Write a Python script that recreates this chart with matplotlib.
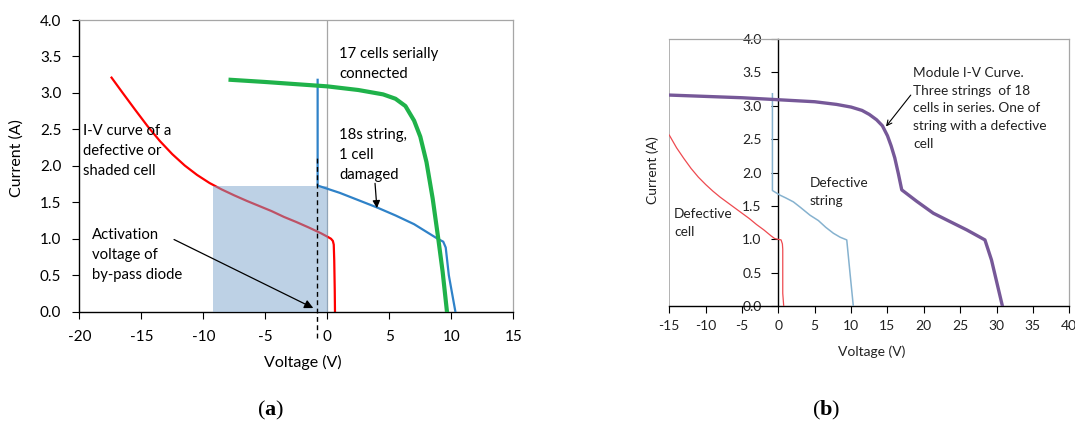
import matplotlib
matplotlib.use("Agg")
import matplotlib.pyplot as plt

plt.rcParams['font.family'] = ['Lato', 'DejaVu Sans']
plt.rcParams['mathtext.fontset'] = 'custom'
plt.rcParams['mathtext.rm'] = 'Liberation Serif'
plt.rcParams['mathtext.bf'] = 'Liberation Serif:bold'

# ---------------- data: panel (a) ----------------
cell_v = [-17.4, -16.5, -15.5, -14.5, -13.5, -12.5, -11.5, -10.5, -9.5, -8.5, -7.5,
          -6.5, -5.5, -4.5, -3.5, -2.5, -1.5, -0.5, 0.1, 0.3, 0.45, 0.52, 0.56, 0.6, 0.62]
cell_i = [3.21, 3.0, 2.77, 2.545, 2.34, 2.16, 2.005, 1.875, 1.765, 1.675, 1.595,
          1.52, 1.45, 1.38, 1.30, 1.23, 1.155, 1.075, 1.02, 1.0, 0.97, 0.92, 0.7, 0.3, 0.0]

string_v = [-0.78, -0.78, 1.0, 2.5, 4.0, 5.5, 7.0, 8.9, 9.35, 9.55, 9.8, 10.33]
string_i = [3.18, 1.73, 1.63, 1.53, 1.43, 1.32, 1.2, 1.0, 0.96, 0.88, 0.5, 0.0]

good_v = [-7.8, -5.0, -2.5, 0.0, 2.5, 4.5, 5.5, 6.3, 7.0, 7.5, 8.0, 8.5, 8.95, 9.3, 9.65]
good_i = [3.18, 3.15, 3.12, 3.09, 3.04, 2.98, 2.92, 2.82, 2.62, 2.4, 2.05, 1.55, 1.0, 0.55, 0.0]

shade_v = [-9.2, 0.08]
shade_i = 1.73
bypass_v = -0.8

ticks_a_x = [-20, -15, -10, -5, 0, 5, 10, 15]
ticks_a_y = [0.0, 0.5, 1.0, 1.5, 2.0, 2.5, 3.0, 3.5, 4.0]

# ---------------- data: panel (b) ----------------
mod_v = [-15.0, -10.0, -5.0, 0.0, 5.0, 8.0, 10.0, 11.5, 12.5, 13.5, 14.3, 15.0, 15.5,
         16.0, 16.5, 16.96, 19.0, 21.3, 23.5, 25.9, 28.4, 29.3, 30.8]
mod_i = [3.16, 3.14, 3.12, 3.09, 3.06, 3.02, 2.98, 2.93, 2.87, 2.79, 2.70, 2.55, 2.40,
         2.22, 1.98, 1.74, 1.57, 1.39, 1.27, 1.14, 0.99, 0.69, 0.0]

dcell_v = [-15.0, -14.0, -13.0, -12.0, -11.0, -10.0, -9.0, -8.0, -7.0, -6.0, -5.0, -4.0,
           -3.0, -2.0, -1.0, -0.5, 0.37, 0.55, 0.6, 0.6, 0.73]
dcell_i = [2.56, 2.37, 2.21, 2.06, 1.93, 1.82, 1.72, 1.63, 1.55, 1.47, 1.39, 1.31,
           1.22, 1.14, 1.05, 1.01, 0.99, 0.93, 0.85, 0.19, 0.0]

dstr_v = [-0.82, -0.82, 0.23, 1.0, 2.06, 3.0, 4.35, 5.5, 6.5, 7.56, 8.5, 9.4, 9.85, 10.3]
dstr_i = [3.18, 1.73, 1.66, 1.62, 1.56, 1.48, 1.36, 1.28, 1.18, 1.09, 1.03, 0.99, 0.49, 0.0]

ticks_b_x = [-15, -10, -5, 0, 5, 10, 15, 20, 25, 30, 35, 40]
ticks_b_y = [0.0, 0.5, 1.0, 1.5, 2.0, 2.5, 3.0, 3.5, 4.0]

W, H = 1075, 422
fig = plt.figure(figsize=(W / 100, H / 100), dpi=100)


def fx(px):
    return px / W


def fy(py):
    return 1 - py / H


GREY = '#a6a6a6'

# ================= panel (a) =================
ax = fig.add_axes([fx(79.3), fy(311.7), fx(513.3) - fx(79.3), fy(20) - fy(311.7)])
ax.set_xlim(-20, 15)
ax.set_ylim(0, 4)
ax.axvline(0, color=GREY, lw=0.9, zorder=1)
ax.plot(cell_v, cell_i, color='#ff0000', lw=1.6, zorder=2)
ax.fill_between(shade_v, 0, shade_i, color='#7da5cd', alpha=0.5, lw=0, zorder=3)
ax.plot(string_v, string_i, color='#2f82c8', lw=1.6, zorder=4)
ax.plot(good_v, good_i, color='#1fb24a', lw=3.0, zorder=5)
ax.plot([bypass_v, bypass_v], [-0.36, 2.15], color='black', lw=1.0,
        ls=(0, (3.5, 2.5)), clip_on=False, zorder=6)

ax.set_xticks(ticks_a_x)
ax.set_yticks(ticks_a_y)
ax.set_xticklabels([str(t) for t in ticks_a_x])
ax.set_yticklabels([f'{t:.1f}' for t in ticks_a_y])
ax.tick_params(axis='both', direction='out', length=5, width=0.8, labelsize=11, color='black')
ax.tick_params(axis='x', pad=8)
ax.tick_params(axis='y', pad=8)
for s in ['top', 'right']:
    ax.spines[s].set_color(GREY)
    ax.spines[s].set_linewidth(0.9)
for s in ['left', 'bottom']:
    ax.spines[s].set_color('black')
    ax.spines[s].set_linewidth(1.0)

tkw = dict(fontsize=10.7, ha='left', va='center', linespacing=1.55, zorder=7)
ax.text(0.97, 3.395, '17 cells serially\nconnected', **tkw)
ax.text(-19.67, 2.20, 'I-V curve of a\ndefective or\nshaded cell', **tkw)
ax.text(0.97, 2.15, '18s string,\n1 cell\ndamaged', **tkw)
ax.text(-18.94, 0.78, 'Activation\nvoltage of\nby-pass diode', **tkw)

ax.annotate('', xy=(-1.13, 0.05), xytext=(-12.36, 0.99),
            arrowprops=dict(arrowstyle='-|>', color='black', lw=0.9,
                            mutation_scale=13, shrinkA=0, shrinkB=0), zorder=8)
ax.annotate('', xy=(4.0, 1.42), xytext=(3.85, 1.76),
            arrowprops=dict(arrowstyle='-|>', color='black', lw=0.9,
                            mutation_scale=11, shrinkA=0, shrinkB=0), zorder=8)

fig.text(fx(17), fy(158), 'Current (A)', rotation=90, fontsize=11.5, ha='center', va='center')
fig.text(fx(302.8), fy(362), 'Voltage (V)', fontsize=11.5, ha='center', va='center')
fig.text(fx(271), fy(410), r'$\mathrm{(}\mathbf{a}\mathrm{)}$', fontsize=16, ha='center', va='center')

# ================= panel (b) =================
bx = fig.add_axes([fx(669.3), fy(306), fx(1069.3) - fx(669.3), fy(39) - fy(306)])
bx.set_xlim(-15, 40)
bx.set_ylim(0, 4)
bx.axvline(-15, color=GREY, lw=1.2, zorder=1)
bx.plot(dcell_v, dcell_i, color='#ee4a50', lw=0.9, zorder=3)
bx.plot(dstr_v, dstr_i, color='#86b2cf', lw=1.1, zorder=3)
bx.plot(mod_v, mod_i, color='#765898', lw=2.4, zorder=4)

bx.spines['left'].set_position(('data', 0))
bx.spines['left'].set_color('black')
bx.spines['left'].set_linewidth(1.0)
bx.spines['bottom'].set_color('black')
bx.spines['bottom'].set_linewidth(1.0)
for s in ['top', 'right']:
    bx.spines[s].set_color(GREY)
    bx.spines[s].set_linewidth(0.9)

bx.set_xticks(ticks_b_x)
bx.set_yticks(ticks_b_y)
bx.set_xticklabels([str(t) for t in ticks_b_x])
bx.set_yticklabels([f'{t:.1f}' for t in ticks_b_y])
bx.tick_params(axis='both', direction='out', length=5, width=0.8, labelsize=10,
               color='black', labelcolor='#222222')
bx.tick_params(axis='x', pad=5)
bx.tick_params(axis='y', pad=7)

bkw = dict(fontsize=9.8, ha='left', va='center', linespacing=1.58, color='#222222', zorder=7)
bx.text(18.56, 2.96, 'Module I-V Curve.\nThree strings  of 18\ncells in series. One of\nstring with a defective\ncell', **bkw)
bx.text(4.26, 1.71, 'Defective\nstring', **bkw)
bx.text(-14.34, 1.24, 'Defective\ncell', **bkw)
bx.annotate('', xy=(14.8, 2.69), xytext=(18.2, 3.16),
            arrowprops=dict(arrowstyle='->', color='black', lw=0.8,
                            mutation_scale=9, shrinkA=0, shrinkB=0), zorder=8)

fig.text(fx(653), fy(170), 'Current (A)', rotation=90, fontsize=10, ha='center', va='center', color='#222222')
fig.text(fx(871.7), fy(351.7), 'Voltage (V)', fontsize=10, ha='center', va='center', color='#222222')
fig.text(fx(826), fy(410), r'$\mathrm{(}\mathbf{b}\mathrm{)}$', fontsize=16, ha='center', va='center')

fig.savefig('out.png', dpi=100)
